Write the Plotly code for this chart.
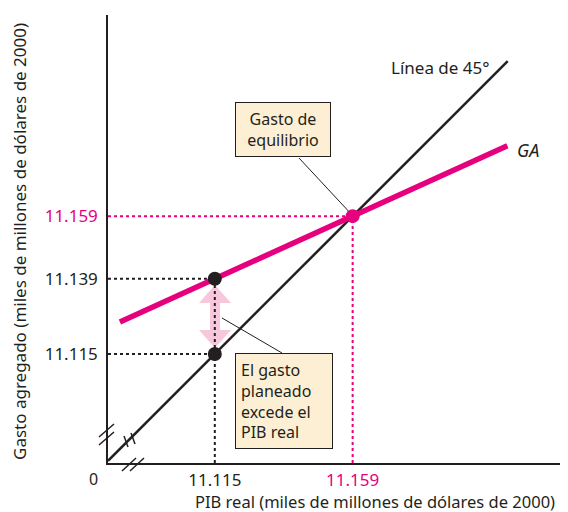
import plotly.graph_objects as go

PINK = "#e6007e"
INK = "#231f20"
BOX_FILL = "#fdefd4"

# values (miles de millones de dolares de 2000, shown with Spanish decimal point)
x_ticks = [11.115, 11.159]
y_ticks = [11.115, 11.139, 11.159]
x_tick_text = ["11.115", "<span style='color:#e6007e'>11.159</span>"]
y_tick_text = ["11.115", "11.139", "<span style='color:#e6007e'>11.159</span>"]

line45_x = [11.0809, 11.2085]
line45_y = [11.0809, 11.2085]
ga_x = [11.0847, 11.2084]
ga_y = [11.1252, 11.1815]

pts_black_x = [11.115, 11.115]
pts_black_y = [11.139, 11.115]
eq_x = [11.159]
eq_y = [11.159]

x_range = [11.0809, 11.2252]
y_range = [11.0802, 11.2232]

# plot area in page pixels (the page body adds 8px around the figure)
OFF = 8
L, T, W, H = 108, 15, 452, 448


def px(xp, yp):
    # page pixel -> data coordinates
    x = x_range[0] + (xp - L) / W * (x_range[1] - x_range[0])
    y = y_range[1] - (yp - T) / H * (y_range[1] - y_range[0])
    return x, y


def pp(xp, yp):
    # page pixel -> paper coordinates
    return (xp - L) / W, 1 - (yp - T) / H


fig = go.Figure()

# dotted guide lines
for xs, ys, c in [
    ([x_range[0], 11.115], [11.139, 11.139], INK),
    ([x_range[0], 11.115], [11.115, 11.115], INK),
    ([11.115, 11.115], [y_range[0], 11.115], INK),
    ([x_range[0], 11.159], [11.159, 11.159], PINK),
    ([11.159, 11.159], [y_range[0], 11.159], PINK),
]:
    fig.add_trace(go.Scatter(x=xs, y=ys, mode="lines",
                             line=dict(color=c, width=2, dash="dot"),
                             hoverinfo="skip"))

# pink double arrow between the two points (polygon, pixel outline)
arrow_px = [(215, 285), (199, 303), (210, 303), (210, 330), (199, 330),
            (215, 348), (231, 330), (220, 330), (220, 303), (231, 303),
            (215, 285)]
arrow = [px(a, b) for a, b in arrow_px]
fig.add_trace(go.Scatter(x=[p[0] for p in arrow], y=[p[1] for p in arrow],
                         mode="lines", fill="toself", fillcolor="#f7c8dc",
                         line=dict(width=0, color="#f7c8dc"),
                         hoverinfo="skip"))
# dotted line shows through the arrow
fig.add_trace(go.Scatter(x=[11.115, 11.115], y=[11.115, 11.139], mode="lines",
                         line=dict(color=INK, width=2, dash="dot"),
                         hoverinfo="skip"))

fig.add_trace(go.Scatter(x=line45_x, y=line45_y, mode="lines",
                         line=dict(color=INK, width=2.5), hoverinfo="skip"))
fig.add_trace(go.Scatter(x=ga_x, y=ga_y, mode="lines",
                         line=dict(color=PINK, width=5.5), hoverinfo="skip"))

# leader lines
for (a, b) in [((299, 158), (353, 216)), ((282, 353), (222, 318))]:
    x0, y0 = px(*a)
    x1, y1 = px(*b)
    fig.add_trace(go.Scatter(x=[x0, x1], y=[y0, y1], mode="lines",
                             line=dict(color=INK, width=1), hoverinfo="skip"))

# break marks (drawn as paper-ref shapes so they may leave the plot area)
for (a, b) in [((99, 437), (114, 424)), ((99, 445), (114, 432)),
               ((128, 447), (124, 436)), ((135, 444), (131, 433)),
               ((122, 471), (136, 458)), ((130, 471), (144, 458))]:
    x0, y0 = pp(*a)
    x1, y1 = pp(*b)
    fig.add_shape(type="line", xref="paper", yref="paper",
                  x0=x0, y0=y0, x1=x1, y1=y1,
                  line=dict(color=INK, width=1.5))

fig.add_trace(go.Scatter(x=pts_black_x, y=pts_black_y, mode="markers",
                         marker=dict(color=INK, size=14), hoverinfo="skip"))
fig.add_trace(go.Scatter(x=eq_x, y=eq_y, mode="markers",
                         marker=dict(color=PINK, size=14), hoverinfo="skip"))

font = dict(family="Noto Sans, sans-serif", size=16, color=INK)

fig.add_annotation(x=px(440, 67)[0], y=px(440, 67)[1], text="Línea de 45°",
                   showarrow=False, font=dict(font, size=17))
fig.add_annotation(x=px(528, 150)[0], y=px(528, 150)[1], text="<i>GA</i>",
                   showarrow=False, font=dict(font, size=18))
fig.add_annotation(x=px(283, 129)[0], y=px(283, 129)[1],
                   text="Gasto de<br>equilibrio", showarrow=False, font=font,
                   align="center", bgcolor=BOX_FILL, bordercolor=INK,
                   borderwidth=1, borderpad=5, width=84)
fig.add_annotation(x=px(284, 401)[0], y=px(284, 401)[1],
                   text="El gasto<br>planeado<br>excede el<br>PIB real",
                   showarrow=False, font=font, align="left",
                   bgcolor=BOX_FILL, bordercolor=INK, borderwidth=1,
                   borderpad=5, width=86)

for xp, yp, txt, ang, size in [
    (93, 479, "0", 0, 16),
    (375, 501, "PIB real (miles de millones de dólares de 2000)", 0, 16.5),
    (19, 242, "Gasto agregado (miles de millones de dólares de 2000)", -90, 17),
]:
    x, y = pp(xp, yp)
    fig.add_annotation(x=x, y=y, xref="paper", yref="paper", text=txt,
                       xanchor="center", yanchor="middle",
                       textangle=ang, showarrow=False,
                       font=dict(font, size=size))

fig.update_layout(
    width=568 - OFF, height=512 - OFF,
    margin=dict(l=L - OFF, r=568 - L - W, t=T - OFF, b=512 - T - H),
    plot_bgcolor="white", paper_bgcolor="white",
    showlegend=False, font=font,
    xaxis=dict(range=x_range, tickvals=x_ticks, ticktext=x_tick_text,
               showgrid=False, zeroline=False, showline=True,
               linecolor=INK, linewidth=1.5, ticks="outside", ticklen=1,
               tickcolor="rgba(0,0,0,0)", automargin=False,
               tickfont=dict(size=17)),
    yaxis=dict(range=y_range, tickvals=y_ticks, ticktext=y_tick_text,
               showgrid=False, zeroline=False, showline=True,
               linecolor=INK, linewidth=1.5, ticks="outside", ticklen=5,
               tickcolor="rgba(0,0,0,0)", automargin=False,
               tickfont=dict(size=17)),
)

fig.write_html("out.html")
